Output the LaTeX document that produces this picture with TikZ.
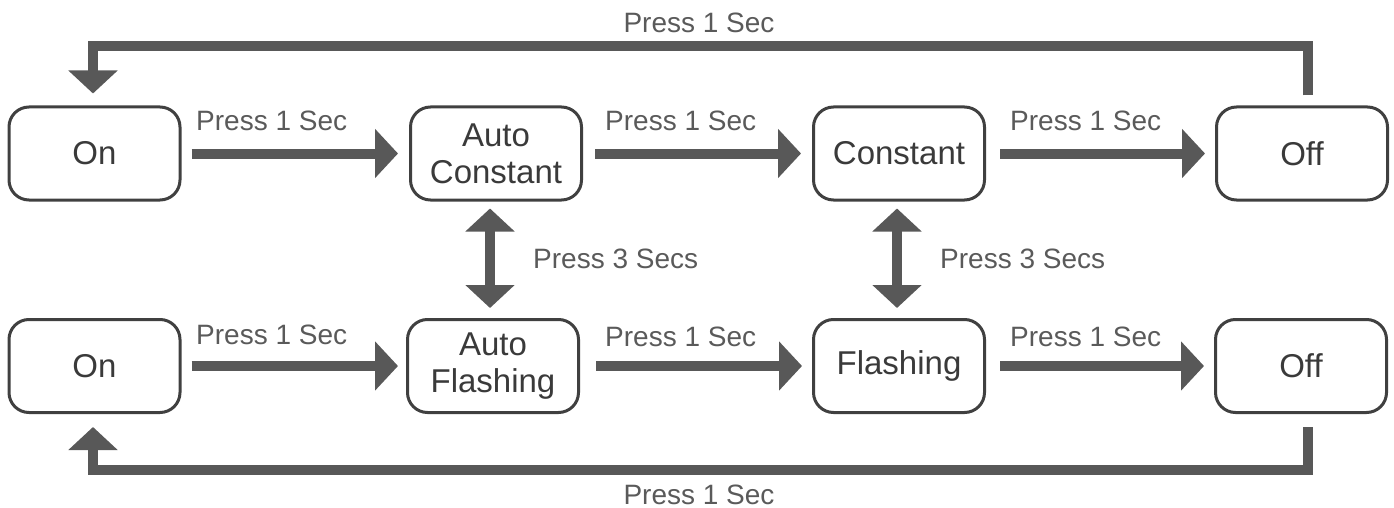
\documentclass[tikz,border=0pt]{standalone}
\usepackage{fontspec}
\setmainfont{Liberation Sans}
\usetikzlibrary{arrows.meta}
\definecolor{arrowgray}{HTML}{585858}
\definecolor{boxline}{HTML}{404040}
\definecolor{boxtext}{HTML}{3A3A3A}
\definecolor{labeltext}{HTML}{5A5A5A}
\tikzset{
  statebox/.style={draw=boxline, line width=3pt, rounded corners=20pt,
    minimum width=171pt, minimum height=93pt, inner sep=0pt, align=center,
    text=boxtext, font=\fontsize{33}{37}\selectfont},
  presslabel/.style={text=labeltext, font=\fontsize{28}{34}\selectfont, inner sep=0pt},
  bigarrow/.style={draw=arrowgray, line width=10pt,
    -{Triangle[width=48pt,length=23pt]}},
  dblarrow/.style={draw=arrowgray, line width=10pt,
    {Triangle[width=48pt,length=23pt]}-{Triangle[width=48pt,length=23pt]}}
}
\begin{document}
\begin{tikzpicture}[x=1pt,y=-1pt]
\useasboundingbox (0,0) rectangle (1394,508);
% top row
\node[statebox] (on1)  at (94.5,153.5) {On};
\node[statebox] (ac)   at (496,153.5) {Auto\\Constant};
\node[statebox] (con)  at (899,153.5) {Constant};
\node[statebox] (off1) at (1302,153.5) {Off};
% bottom row
\node[statebox] (on2)  at (94.5,366) {On};
\node[statebox] (af)   at (493,366) {Auto\\Flashing};
\node[statebox] (fl)   at (899,366) {Flashing};
\node[statebox] (off2) at (1301,366) {Off};
% horizontal arrows
\draw[bigarrow, shorten <=10pt, shorten >=11pt] (on1.east) -- (ac.west);
\draw[bigarrow, shorten <=12pt, shorten >=11pt] (ac.east) -- (con.west);
\draw[bigarrow, shorten <=14pt, shorten >=10pt] (con.east) -- (off1.west);
\draw[bigarrow, shorten <=10pt, shorten >=8pt] (on2.east) -- (af.west);
\draw[bigarrow, shorten <=16pt, shorten >=10pt] (af.east) -- (fl.west);
\draw[bigarrow, shorten <=14pt, shorten >=10pt] (fl.east) -- (off2.west);
% vertical double arrows
\draw[dblarrow, shorten <=7pt, shorten >=10pt] ([xshift=-6pt]ac.south) -- ([xshift=-3pt]af.north);
\draw[dblarrow, shorten <=7pt, shorten >=10pt] ([xshift=-2pt]con.south) -- ([xshift=-2pt]fl.north);
% feedback loops
\draw[bigarrow, shorten <=10pt, shorten >=12pt] ([xshift=6pt]off1.north) -- ++(0,-59) -| ([xshift=-1.5pt]on1.north);
\draw[bigarrow, shorten <=13pt, shorten >=13pt] ([xshift=7pt]off2.south) -- ++(0,56) -| ([xshift=-1.5pt]on2.south);
% labels
\node[presslabel, anchor=base] (ltop) at (699,33) {Press 1 Sec};
\node[presslabel, anchor=base] (lbot) at (699,504) {Press 1 Sec};
\node[presslabel, anchor=base west] (l1) at (196,131) {Press 1 Sec};
\node[presslabel, anchor=base west] (l2) at (605,131) {Press 1 Sec};
\node[presslabel, anchor=base west] (l3) at (1010,131) {Press 1 Sec};
\node[presslabel, anchor=base west] (l4) at (196,344) {Press 1 Sec};
\node[presslabel, anchor=base west] (l5) at (605,346) {Press 1 Sec};
\node[presslabel, anchor=base west] (l6) at (1010,346) {Press 1 Sec};
\node[presslabel, anchor=base west] (l7) at (533,268) {Press 3 Secs};
\node[presslabel, anchor=base west] (l8) at (940,268) {Press 3 Secs};
\end{tikzpicture}
\end{document}
